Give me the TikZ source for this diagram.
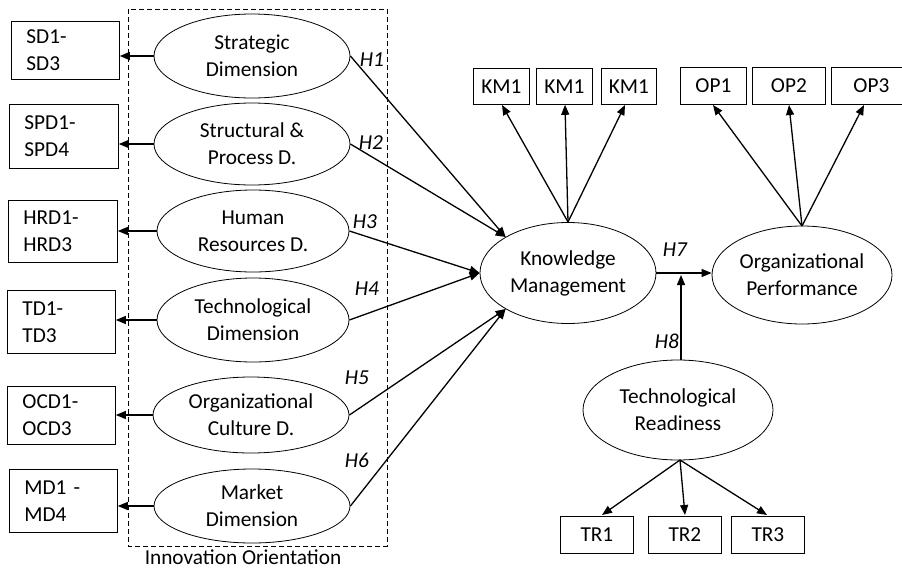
\documentclass[tikz,border=0pt]{standalone}
\usepackage{fontspec}
\setmainfont{Carlito}
\usetikzlibrary{arrows.meta,shapes.geometric}
\begin{document}
\begin{tikzpicture}[x=1pt,y=-1pt,
  every node/.style={font=\fontsize{21.3}{27}\selectfont},
  lat/.style={draw, line width=0.8pt, ellipse, inner sep=0pt, align=center},
  ind/.style={draw, line width=0.8pt, rectangle, inner sep=0pt, align=left, anchor=north west},
  obs/.style={draw, line width=0.8pt, rectangle, inner sep=0pt, align=center, anchor=north west},
  hyp/.style={font=\fontsize{21.3}{27}\selectfont\itshape},
  arr/.style={line width=1.3pt, -{Triangle[length=10pt,width=8pt]}},
]
\clip (0,0) rectangle (902,568);
\useasboundingbox (0,0) rectangle (902,568);
% dashed box
\draw[dash pattern=on 5pt off 3pt, line width=0.8pt] (128,9) rectangle (387,546);
\node (io) at (243,557) {Innovation Orientation};

% left latent ellipses
\node[lat, minimum width=196pt, minimum height=84pt] (sd) at (252,56) {Strategic\\Dimension};
\node[lat, minimum width=196pt, minimum height=82pt] (spd) at (252,144) {Structural \&\\Process D.};
\node[lat, minimum width=192pt, minimum height=82pt] (hrd) at (253,231) {Human\\Resources D.};
\node[lat, minimum width=192pt, minimum height=84pt] (td) at (253,320) {Technological\\Dimension};
\node[lat, minimum width=196pt, minimum height=76pt] (ocd) at (251,415) {Organizational\\Culture D.};
\node[lat, minimum width=196pt, minimum height=74pt] (md) at (252,506) {Market\\Dimension};

% indicator boxes
\node[ind, minimum width=98pt, minimum height=58pt, text width=78pt, inner xsep=15pt] (bsd) at (11,21) {SD1-\\SD3};
\node[ind, minimum width=99pt, minimum height=64pt, text width=79pt, inner xsep=15pt] (bspd) at (9,104) {SPD1-\\SPD4};
\node[ind, minimum width=99pt, minimum height=62pt, text width=79pt, inner xsep=15pt] (bhrd) at (8,200) {HRD1-\\HRD3};
\node[ind, minimum width=98pt, minimum height=63pt, text width=78pt, inner xsep=15pt] (btd) at (7,290) {TD1-\\TD3};
\node[ind, minimum width=98pt, minimum height=58pt, text width=78pt, inner xsep=15pt] (bocd) at (7,386) {OCD1-\\OCD3};
\node[ind, minimum width=98pt, minimum height=63pt, text width=78pt, inner xsep=15pt] (bmd) at (9,469) {MD1 -\\MD4};

\draw[arr] (sd) -- (bsd.east |- sd);
\draw[arr] (spd) -- (bspd.east |- spd);
\draw[arr] (hrd) -- (bhrd.east |- hrd);
\draw[arr] (td) -- (btd.east |- td);
\draw[arr] (ocd) -- (bocd.east |- ocd);
\draw[arr] (md) -- (bmd.east |- md);

% central latents
\node[lat, minimum width=176pt, minimum height=101pt] (km) at (568,273) {Knowledge\\Management};
\node[lat, minimum width=180pt, minimum height=98pt] (op) at (802,275) {Organizational\\Performance};
\node[lat, minimum width=190pt, minimum height=100pt] (tr) at (678,410) {Technological\\Readiness};

% hypotheses arrows
\draw[arr] (sd.east) -- (km.150);
\draw[arr] (spd.east) -- (km.150);
\draw[arr] (hrd.east) -- (km.west);
\draw[arr] (td.east) -- (km.west);
\draw[arr] (ocd.east) -- (km.210);
\draw[arr] (md.east) -- (km.210);
\node[hyp] (h1) at (372,60) {H1};
\node[hyp] (h2) at (371,143) {H2};
\node[hyp] (h3) at (365,222) {H3};
\node[hyp] (h4) at (367,289) {H4};
\node[hyp] (h5) at (357,378) {H5};
\node[hyp] (h6) at (357,460) {H6};

% KM indicators
\node[obs, minimum width=56pt, minimum height=36pt] (km1) at (473,68) {KM1};
\node[obs, minimum width=56pt, minimum height=36pt] (km2) at (536,68) {KM1};
\node[obs, minimum width=55pt, minimum height=36pt] (km3) at (601,68) {KM1};
\coordinate (kmtop) at (568,222);
\draw[arr] (kmtop) -- (502,105) coordinate (k1);
\draw[arr] (kmtop) -- (km2.south -| 565,0);
\draw[arr] (kmtop) -- (625,105) coordinate (k3);

% OP indicators
\node[obs, minimum width=66pt, minimum height=37pt] (op1) at (680,67) {OP1};
\node[obs, minimum width=73pt, minimum height=37pt] (op2) at (752,67) {OP2};
\node[obs, minimum width=80pt, minimum height=37pt, text width=66pt, inner xsep=7pt] (op3) at (831,67) {OP3};
\coordinate (optop) at (802,226);
\draw[arr] (optop) -- (713,105);
\draw[arr] (optop) -- (789,105);
\draw[arr] (optop) -- (864,105);

% H7, H8
\draw[arr] (km.east) -- (op.west |- km.east);
\node[hyp] (h7) at (675,250) {H7};
\coordinate (h8end) at (681,275);
\draw[arr] (tr.north -| 681,0) -- (h8end);
\node[hyp] (h8) at (667,341) {H8};

% TR indicators
\node[obs, minimum width=73pt, minimum height=37pt] (tr1) at (560,516) {TR1};
\node[obs, minimum width=73pt, minimum height=37pt] (tr2) at (648,516) {TR2};
\node[obs, minimum width=73pt, minimum height=37pt] (tr3) at (731,516) {TR3};
\coordinate (trbot) at (680,460);
\draw[arr] (trbot) -- (602,515);
\draw[arr] (trbot) -- (685,515);
\draw[arr] (trbot) -- (767,515);
\end{tikzpicture}
\end{document}
